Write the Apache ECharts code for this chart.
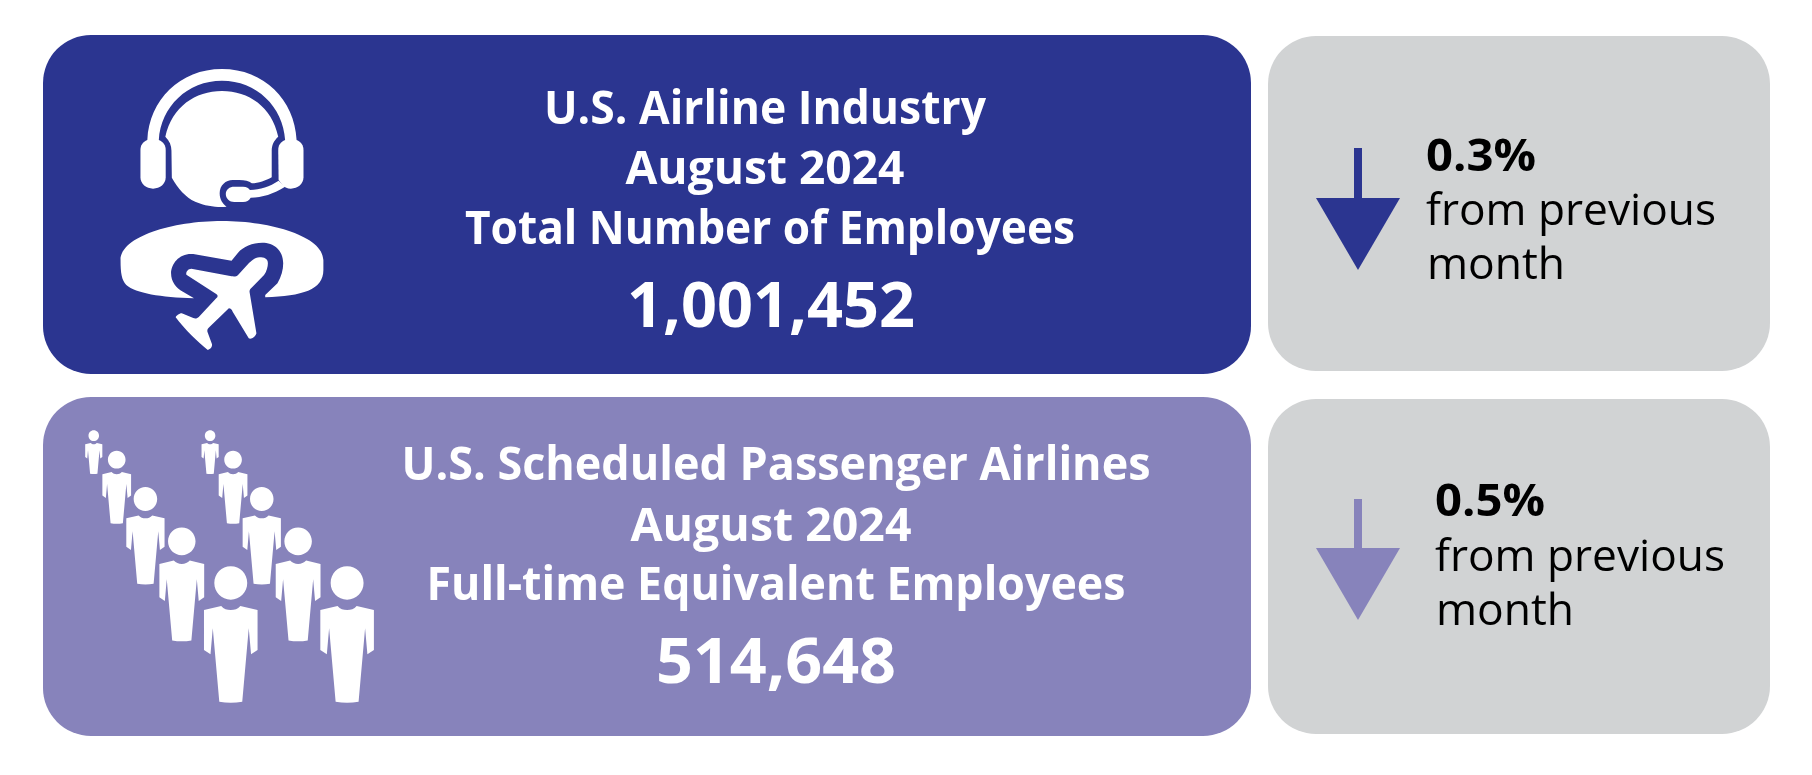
<!DOCTYPE html>
<html lang="en">
<head>
<meta charset="UTF-8">
<title>U.S. Airline Employment August 2024</title>
<style>
    html,body{margin:0;padding:0;background:#fff;}
    #main{width:1812px;height:775px;}
</style>
<script src="https://cdn.jsdelivr.net/npm/echarts@6/dist/echarts.min.js"></script>
</head>
<body>
<div id="main"></div>
<script>
// values
var panelTitles = ['U.S. Airline Industry', 'U.S. Scheduled Passenger Airlines'];
var panelMonths = ['August 2024', 'August 2024'];
var panelMeasures = ['Total Number of Employees', 'Full-time Equivalent Employees'];
var employeeCounts = [1001452, 514648];
var changePercents = [0.3, 0.5];
var changeNote = ['from previous', 'month'];

var NAVY = '#2B3590', LILAC = '#8783BB', GREY = '#D1D3D4';
var FONT = '"Open Sans"';

var ruler = document.createElement('canvas').getContext('2d');

// text squeezed to the measured width, the original face is narrower than Open Sans
function label(str, x, baseline, size, weight, fill, align, width) {
    ruler.font = weight + ' ' + size + 'px ' + FONT;
    return {
        type: 'text',
        x: x,
        y: baseline,
        scaleX: width / ruler.measureText(str).width,
        style: {
            text: str,
            x: 0,
            y: 0,
            fill: fill,
            font: weight + ' ' + size + 'px ' + FONT,
            textAlign: align,
            textVerticalAlign: 'bottom'
        }
    };
}

function card(x, y, w, h, fill) {
    return { type: 'rect', shape: { x: x, y: y, width: w, height: h, r: 48 }, style: { fill: fill } };
}

function arrow(top, neck, tip, fill) {
    return {
        type: 'group',
        children: [
            { type: 'rect', shape: { x: 1354, y: top, width: 8, height: neck - top + 1 }, style: { fill: fill } },
            { type: 'polygon', shape: { points: [[1316, neck], [1400, neck], [1358, tip]] }, style: { fill: fill } }
        ]
    };
}

// icons traced by hand, white on the card
var headsetPaths = [
    'M385 420C390 300 470 207 580 207C690 207 770 300 775 420L745 420C740 320 670 242 580 242C490 242 420 320 415 420Z',
    'M385 420C373 426 367 436 367 450L367 532C367 552 382 566 400 566C418 566 433 552 433 532L433 450C433 436 427 426 415 420Z',
    'M775 420C787 426 793 436 793 450L793 532C793 552 778 566 760 566C750 566 745 562 740 558L728 540L727 450C727 436 733 426 745 420Z',
    'M432 410C450 320 510 273 580 273C650 273 710 320 727 410C715 422 710 436 710 452L710 532C695 542 675 550 658 550C650 543 640 540 625 540L608 540C590 540 574 556 574 580C574 598 582 612 592 620C570 622 540 620 510 605C485 592 465 565 449 533L448 452C448 436 443 422 432 410Z',
    'M590 582C590 568 600 560 612 560L635 560C645 560 650 565 653 570C680 568 705 560 728 542L745 560C715 582 685 592 655 593C650 602 645 606 635 606L612 606C600 606 590 596 590 582Z',
    'M315 780C315 710 450 663 580 663C710 663 845 710 845 780L845 810C845 870 790 888 693 892L693 885L725 850C735 830 740 810 740 790C740 750 715 728 685 728C660 728 635 740 622 758L605 782L505 762C470 758 447 790 447 820C447 845 460 865 478 875L507 895C420 892 355 880 330 855C318 840 315 820 315 780Z',
    'M700 790C700 775 690 772 678 772C665 773 655 785 650 790L622 825C618 830 612 830 605 829L500 806C492 806 485 815 487 824L565 882C570 886 570 890 565 895L520 950C515 956 510 956 505 954L475 940C468 940 460 948 459 952C480 985 520 1030 543 1050C550 1048 555 1040 554 1033L542 995C541 988 543 985 548 980L598 925C603 925 606 930 608 935L650 1015C656 1020 668 1010 670 1000L652 875C652 868 655 865 660 860L690 825C697 815 700 800 700 790Z'
];
var personPath = 'M-43 0C-43 -28 -24 -50 0 -50C24 -50 43 -28 43 0C43 28 24 50 0 50C-24 50 -43 28 -43 0Z' +
    'M-70 81L-25 69C-18 78 -10 81 0 81C10 81 18 78 25 69L70 81L70 201L53 214L47 136L30 356C10 360 -10 360 -30 356L-47 136L-53 214L-70 201Z';
// head centre x, y and scale of each figure
var crowd = [
    [245, 152, 0.32], [305, 224, 0.536], [380, 342, 0.714], [475, 469, 0.836], [603, 594, 1],
    [549, 152, 0.32], [609, 224, 0.536], [684, 342, 0.714], [779, 469, 0.836], [907, 594, 1]
];

// graphic has no plain path type, so the traced icons are registered as shapes
headsetPaths.forEach(function (d, i) {
    echarts.graphic.registerShape('headset' + i, echarts.graphic.extendPath(d, {}));
});
echarts.graphic.registerShape('person', echarts.graphic.extendPath(personPath, {}));

var elements = [
    card(43, 35, 1208, 339, NAVY),
    card(43, 397, 1208, 339, LILAC),
    card(1268, 36, 502, 335, GREY),
    card(1268, 399, 502, 335, GREY),
    arrow(148, 198, 270, NAVY),
    arrow(499, 548, 620, LILAC),
    {
        type: 'group', scaleX: 1 / 2.613, scaleY: 1 / 3,
        children: headsetPaths.map(function (d, i) {
            return { type: 'headset' + i, style: { fill: '#fff' } };
        })
    },
    {
        type: 'group', y: 385, scaleX: 1 / 2.613, scaleY: 1 / 3,
        children: crowd.map(function (p) {
            return {
                type: 'person', x: p[0], y: p[1], scaleX: p[2], scaleY: p[2],
                style: { fill: '#fff' }
            };
        })
    }
];

// per panel text positions
var textCentres = [[765, 765, 770, 771], [776, 771, 776, 776]];
var textWidths = [[442, 279, 610, 288], [749, 281, 699, 240]];
var textBases = [[124, 184, 244, 323], [480, 541, 600, 679]];
var sideX = [1426, 1435];
var sideBases = [[171, 225, 279], [516, 571, 625]];

panelTitles.forEach(function (title, i) {
    var lines = [title, panelMonths[i], panelMeasures[i]];
    lines.forEach(function (line, j) {
        elements.push(label(line, textCentres[i][j], textBases[i][j] + 10, 46, 700, '#fff', 'center', textWidths[i][j]));
    });
    elements.push(label(employeeCounts[i].toLocaleString('en-US'), textCentres[i][3], textBases[i][3] + 17, 62, 700, '#fff', 'center', textWidths[i][3]));
    elements.push(label(changePercents[i].toFixed(1) + '%', sideX[i], sideBases[i][0] + 9, 44, 700, '#000', 'left', 110));
    elements.push(label(changeNote[0], sideX[i], sideBases[i][1] + 9, 44, 400, '#000', 'left', 290));
    elements.push(label(changeNote[1], sideX[i] + 1, sideBases[i][2] + 9, 44, 400, '#000', 'left', 138));
});

var myChart = echarts.init(document.getElementById('main'));
myChart.setOption({
    animation: false,
    backgroundColor: '#fff',
    graphic: { elements: elements }
});
</script>
</body>
</html>
